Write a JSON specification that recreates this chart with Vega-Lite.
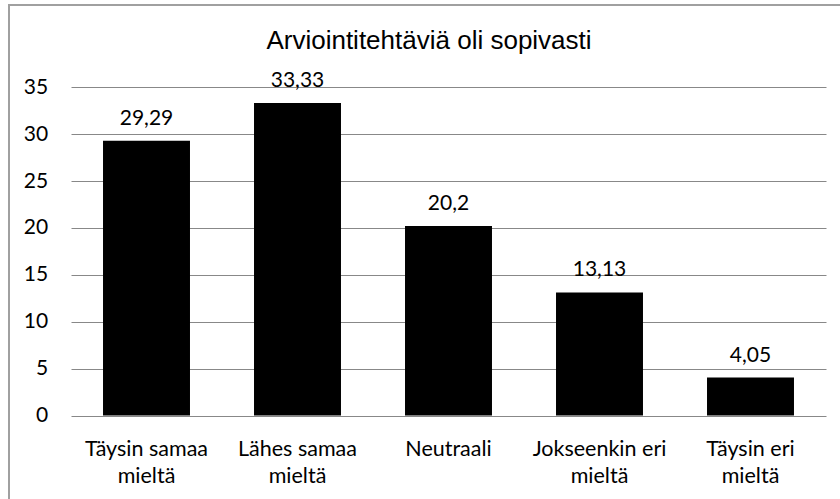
{
  "$schema": "https://vega.github.io/schema/vega-lite/v6.json",
  "autosize": {"type": "none"},
  "padding": {"left": 9, "top": 5, "right": 0, "bottom": 0},
  "width": 840,
  "height": 500,
  "title": {
    "text": "Arviointitehtäviä oli sopivasti",
    "font": "Liberation Sans",
    "fontSize": 26,
    "fontWeight": "normal",
    "color": "#000000",
    "anchor": "middle",
    "frame": "group",
    "baseline": "alphabetic",
    "offset": -45.7,
    "dy": 24
  },
  "data": {
    "values": [
      {"vastaus": "Täysin samaa mieltä", "osuus": 29.29},
      {"vastaus": "Lähes samaa mieltä", "osuus": 33.33},
      {"vastaus": "Neutraali", "osuus": 20.2},
      {"vastaus": "Jokseenkin eri mieltä", "osuus": 13.13},
      {"vastaus": "Täysin eri mieltä", "osuus": 4.05}
    ]
  },
  "encoding": {
    "x": {
      "field": "vastaus",
      "type": "nominal",
      "sort": null,
      "scale": {"range": [62, 817], "paddingInner": 0.424, "paddingOuter": 0.212},
      "axis": {
        "title": null,
        "domain": false,
        "ticks": false,
        "tickSize": 0,
        "labelAngle": 0,
        "labelFont": "Lato",
        "labelFontSize": 21.5,
        "labelColor": "#000000",
        "labelBaseline": "alphabetic",
        "labelLineHeight": 27,
        "labelPadding": -50,
        "labelLimit": 0,
        "labelExpr": "datum.label == 'Neutraali' ? datum.label : [slice(datum.label, 0, lastindexof(datum.label, ' ')), 'mieltä']"
      }
    },
    "y": {
      "field": "osuus",
      "type": "quantitative",
      "scale": {"domain": [0, 35], "range": [410.5, 82.3], "nice": false, "zero": true},
      "axis": {
        "title": null,
        "domain": false,
        "ticks": false,
        "tickSize": 0,
        "values": [0, 5, 10, 15, 20, 25, 30, 35],
        "grid": true,
        "gridColor": "#888888",
        "gridWidth": 1,
        "labelFont": "Lato",
        "labelFontSize": 21,
        "labelColor": "#000000",
        "labelPadding": -38.7,
        "labelAlign": "right",
        "labelBaseline": "middle"
      }
    }
  },
  "layer": [
    {"mark": {"type": "bar", "color": "#000000"}},
    {
      "mark": {"type": "text", "font": "Lato", "fontSize": 21, "color": "#000000", "baseline": "alphabetic", "dy": -16},
      "encoding": {"text": {"field": "osuus", "type": "quantitative"}}
    }
  ],
  "config": {
    "locale": {"number": {"decimal": ",", "thousands": "\u00a0", "grouping": [3], "currency": ["", "\u00a0€"]}},
    "view": {"stroke": "#a0a0a0", "strokeWidth": 2}
  }
}
